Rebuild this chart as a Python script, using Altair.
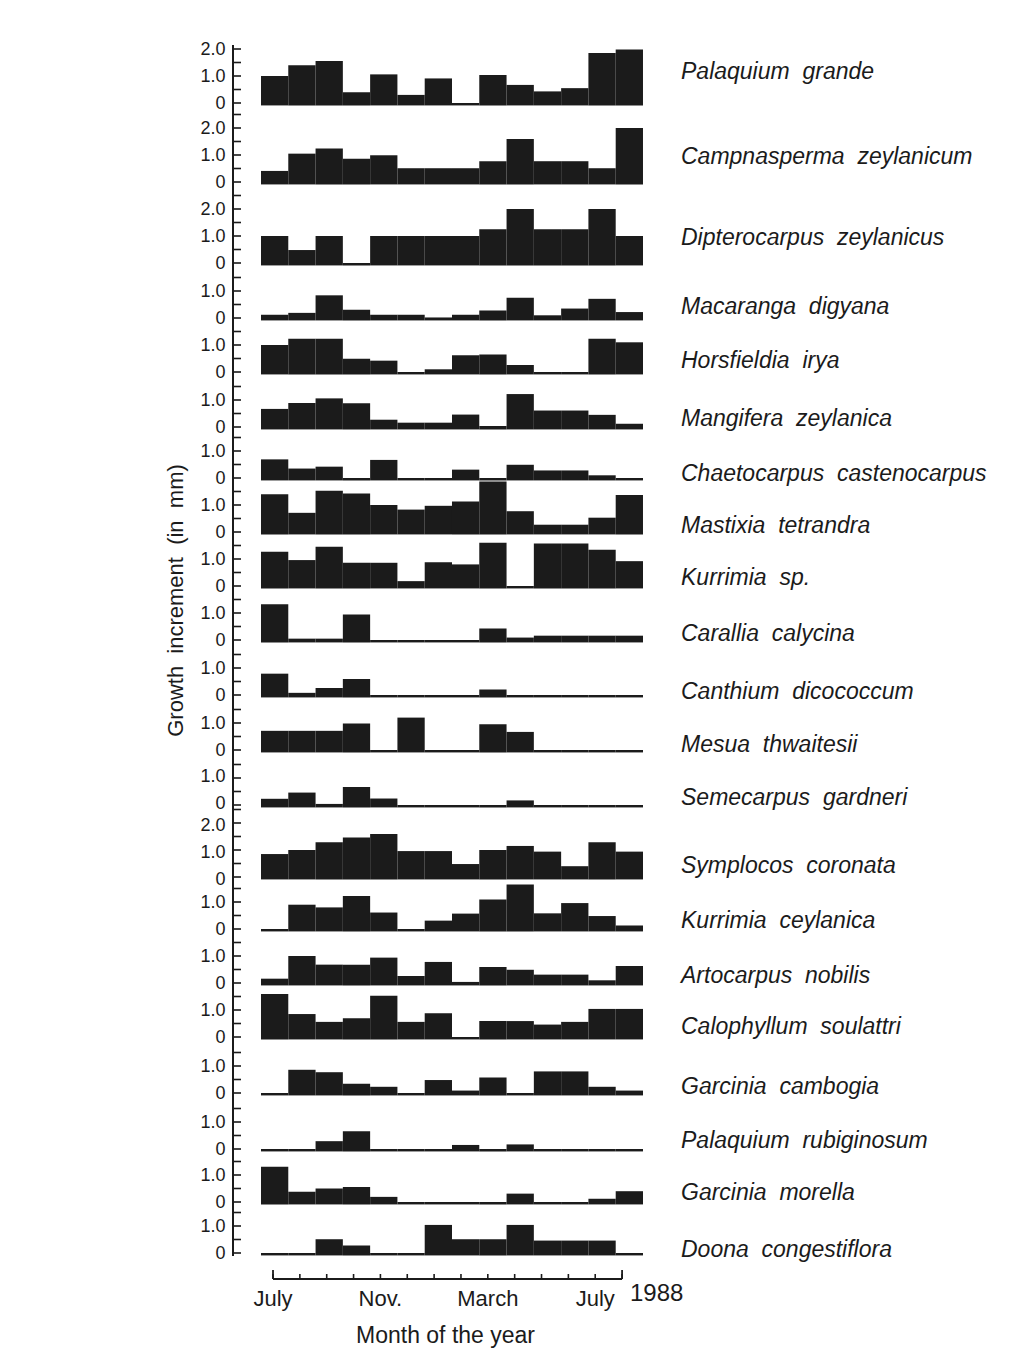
import altair as alt
import pandas as pd

# ---------------- data ----------------
MONTHS = list(range(14))  # July 1987 ... August 1988
MONTH_LABELS = ["July", "", "", "", "Nov.", "", "", "", "March", "", "", "", "July", ""]
YEAR_NOTE = "1988"
Y_TITLE = "Growth\u00a0 increment\u00a0 (in\u00a0 mm)"
X_TITLE = "Month of the year"

SPECIES = [
    "Palaquium\u00a0 grande", "Campnasperma\u00a0 zeylanicum", "Dipterocarpus\u00a0 zeylanicus",
    "Macaranga\u00a0 digyana", "Horsfieldia\u00a0 irya", "Mangifera\u00a0 zeylanica",
    "Chaetocarpus\u00a0 castenocarpus", "Mastixia\u00a0 tetrandra", "Kurrimia\u00a0 sp.",
    "Carallia\u00a0 calycina", "Canthium\u00a0 dicococcum", "Mesua\u00a0 thwaitesii",
    "Semecarpus\u00a0 gardneri", "Symplocos\u00a0 coronata", "Kurrimia\u00a0 ceylanica",
    "Artocarpus\u00a0 nobilis", "Calophyllum\u00a0 soulattri", "Garcinia\u00a0 cambogia",
    "Palaquium\u00a0 rubiginosum", "Garcinia\u00a0 morella", "Doona\u00a0 congestiflora",
]

palaquium_grande = [1.0, 1.4, 1.56, 0.4, 1.06, 0.3, 0.91, 0.0, 1.04, 0.67, 0.43, 0.55, 1.85, 1.98]
campnasperma_zeylanicum = [0.41, 1.05, 1.24, 0.86, 0.99, 0.51, 0.51, 0.51, 0.77, 1.59, 0.77, 0.77, 0.51, 2.0]
dipterocarpus_zeylanicus = [1.0, 0.48, 1.0, 0.0, 1.0, 1.0, 1.0, 1.0, 1.25, 2.0, 1.25, 1.25, 2.0, 1.0]
macaranga_digyana = [0.12, 0.19, 0.84, 0.31, 0.12, 0.12, 0.02, 0.12, 0.28, 0.75, 0.1, 0.35, 0.71, 0.22]
horsfieldia_irya = [1.0, 1.23, 1.23, 0.49, 0.42, 0.0, 0.1, 0.62, 0.65, 0.26, 0.0, 0.0, 1.23, 1.1]
mangifera_zeylanica = [0.67, 0.89, 1.06, 0.88, 0.27, 0.16, 0.16, 0.46, 0.04, 1.22, 0.61, 0.61, 0.45, 0.12]
chaetocarpus_castenocarpus = [0.69, 0.35, 0.42, 0.0, 0.67, 0.0, 0.0, 0.31, 0.0, 0.49, 0.28, 0.28, 0.1, 0.0]
mastixia_tetrandra = [1.4, 0.71, 1.53, 1.43, 1.0, 0.83, 0.97, 1.13, 1.87, 0.77, 0.27, 0.27, 0.53, 1.37]
kurrimia_sp = [1.27, 0.96, 1.45, 0.86, 0.86, 0.18, 0.88, 0.8, 1.6, 0.0, 1.57, 1.57, 1.34, 0.92]
carallia_calycina = [1.32, 0.05, 0.05, 0.94, 0.0, 0.0, 0.0, 0.0, 0.43, 0.09, 0.16, 0.16, 0.16, 0.16]
canthium_dicococcum = [0.79, 0.08, 0.26, 0.59, 0.0, 0.0, 0.0, 0.0, 0.2, 0.0, 0.0, 0.0, 0.0, 0.0]
mesua_thwaitesii = [0.71, 0.71, 0.71, 0.98, 0.0, 1.2, 0.0, 0.0, 0.95, 0.67, 0.0, 0.0, 0.0, 0.0]
semecarpus_gardneri = [0.23, 0.46, 0.04, 0.67, 0.24, 0.0, 0.0, 0.0, 0.0, 0.17, 0.0, 0.0, 0.0, 0.0]
symplocos_coronata = [0.85, 1.0, 1.29, 1.46, 1.59, 0.96, 0.96, 0.48, 1.0, 1.15, 0.94, 0.4, 1.29, 0.94]
kurrimia_ceylanica = [0.0, 0.9, 0.8, 1.22, 0.61, 0.0, 0.31, 0.57, 1.09, 1.65, 0.58, 0.96, 0.48, 0.13]
artocarpus_nobilis = [0.16, 1.0, 0.68, 0.68, 0.94, 0.26, 0.78, 0.04, 0.59, 0.49, 0.31, 0.31, 0.1, 0.63]
calophyllum_soulattri = [1.59, 0.85, 0.56, 0.69, 1.53, 0.56, 0.88, 0.0, 0.59, 0.59, 0.46, 0.56, 1.04, 1.04]
garcinia_cambogia = [0.0, 0.86, 0.77, 0.34, 0.23, 0.0, 0.48, 0.09, 0.57, 0.0, 0.8, 0.8, 0.23, 0.09]
palaquium_rubiginosum = [0.0, 0.0, 0.29, 0.66, 0.0, 0.0, 0.0, 0.15, 0.0, 0.17, 0.0, 0.0, 0.0, 0.0]
garcinia_morella = [1.31, 0.38, 0.5, 0.56, 0.19, 0.0, 0.0, 0.0, 0.0, 0.31, 0.0, 0.0, 0.12, 0.4]
doona_congestiflora = [0.0, 0.0, 0.51, 0.28, 0.0, 0.0, 1.04, 0.51, 0.51, 1.04, 0.46, 0.46, 0.46, 0.0]

GROWTH = [
    palaquium_grande, campnasperma_zeylanicum, dipterocarpus_zeylanicus, macaranga_digyana,
    horsfieldia_irya, mangifera_zeylanica, chaetocarpus_castenocarpus, mastixia_tetrandra,
    kurrimia_sp, carallia_calycina, canthium_dicococcum, mesua_thwaitesii, semecarpus_gardneri,
    symplocos_coronata, kurrimia_ceylanica, artocarpus_nobilis, calophyllum_soulattri,
    garcinia_cambogia, palaquium_rubiginosum, garcinia_morella, doona_congestiflora,
]

TWO_LABEL_PANELS = {0, 1, 2, 13}  # panels whose axis is labelled 0, 1.0, 2.0

# ---------------- layout ----------------
PX_PER_UNIT = 27.0
PANEL_PX = [61, 79, 81, 55, 54, 55, 51, 54, 54, 54, 55, 55, 55, 72, 52, 54, 54, 56, 56, 53, 51]
BELOW_ZERO_PX = 3
LABEL_RISE = [31, 25, 25, 11, 11, 8, 4, 6, 8, 6, 3, 5, 7, 11, 8, 7, 10, 6, 8, 9, 3]
LABEL_NUDGE = {12: -2, 13: 2}  # keep crowded axis labels apart
PLOT_W = 417
X_DOMAIN = [-1.526, 13.757]
AXIS_X_DOMAIN = [-1.49, 14.04]
FONT = "Liberation Sans"
INK = "#1b1b1b"
TITLE_PANEL = 9

panels = []
for i, (name, vals) in enumerate(zip(SPECIES, GROWTH)):
    h = PANEL_PX[i]
    ymin = -BELOW_ZERO_PX / PX_PER_UNIT
    ymax = (h - BELOW_ZERO_PX) / PX_PER_UNIT
    xs = alt.Scale(domain=X_DOMAIN, nice=False, zero=False)
    ys = alt.Scale(domain=[ymin, ymax], nice=False, zero=False)

    df = pd.DataFrame({"m": MONTHS, "g": vals})
    df["m0"] = df["m"] - 0.5
    df["m1"] = df["m"] + 0.5

    label_vals = [0, 1, 2] if i in TWO_LABEL_PANELS else [0, 1]
    axis_kw = dict(
        values=label_vals,
        labelExpr="datum.value == 0 ? '0' : format(datum.value, '.1f')",
        domain=False, ticks=False, grid=False,
        labelPadding=8, labelFont=FONT, labelFontSize=18, labelColor=INK,
        labelBaseline="middle",
    )
    if i in LABEL_NUDGE:
        axis_kw["labelOffset"] = LABEL_NUDGE[i]
    if i == TITLE_PANEL:
        axis_kw.update(
            titleFont=FONT, titleFontSize=22, titleFontWeight="normal",
            titleColor=INK, titleX=-58, titleY=11, titleAngle=270, titleBaseline="middle",
            titleAlign="center",
        )
        ytitle = Y_TITLE
    else:
        ytitle = None

    bars = alt.Chart(df).mark_rect(color=INK).encode(
        x=alt.X("m0:Q", scale=xs, axis=None),
        x2="m1",
        y=alt.Y("g:Q", scale=ys, axis=alt.Axis(**axis_kw), title=ytitle),
        y2=alt.datum(-0.09),
    )

    vline = alt.Chart(pd.DataFrame({"k": [0]})).mark_rule(color=INK, strokeWidth=2).encode(
        x=alt.value(0), y=alt.value(0), y2=alt.value(h)
    )

    tick_vals = [k * 0.5 for k in range(int(ymax / 0.5 + 1e-6) + 1)]
    ticks = alt.Chart(pd.DataFrame({"t": tick_vals})).mark_rule(color=INK, strokeWidth=1.6).encode(
        y=alt.Y("t:Q", scale=ys, axis=None), x=alt.value(0), x2=alt.value(8)
    )

    label = alt.Chart(pd.DataFrame({"name": [name]})).mark_text(
        align="left", baseline="middle", font=FONT, fontStyle="italic",
        fontSize=23, color=INK,
    ).encode(x=alt.value(448), y=alt.value(h - BELOW_ZERO_PX - LABEL_RISE[i]), text="name:N")

    panels.append(
        alt.layer(bars, vline, ticks, label)
        .resolve_axis(x="independent", y="independent")
        .properties(width=PLOT_W, height=h)
    )

# ---------------- month axis panel ----------------
AX_H = 26
AX_LINE_Y = 23
axs = alt.Scale(domain=AXIS_X_DOMAIN, nice=False, zero=False)
df_ax = pd.DataFrame({"m": MONTHS, "lab": MONTH_LABELS})

ax_line = alt.Chart(pd.DataFrame({"a": [MONTHS[0]], "b": [MONTHS[-1]]})).mark_rule(
    color=INK, strokeWidth=2
).encode(
    x=alt.X("a:Q", scale=axs, title=X_TITLE, axis=alt.Axis(
        labels=False, ticks=False, domain=False, grid=False,
        titleFont=FONT, titleFontSize=23, titleFontWeight="normal", titleColor=INK,
        titlePadding=42, titleX=212,
    )),
    x2="b:Q",
    y=alt.value(AX_LINE_Y),
)
ax_ticks = alt.Chart(df_ax).mark_rule(color=INK, strokeWidth=1.6).encode(
    x=alt.X("m:Q", scale=axs, axis=None), y=alt.value(AX_LINE_Y), y2=alt.value(AX_LINE_Y - 5)
)
ax_end_ticks = alt.Chart(df_ax).transform_filter(
    (alt.datum.m == MONTHS[0]) | (alt.datum.m == MONTHS[-1])
).mark_rule(color=INK, strokeWidth=1.8).encode(
    x=alt.X("m:Q", scale=axs, axis=None), y=alt.value(AX_LINE_Y), y2=alt.value(AX_LINE_Y - 9)
)
ax_labels = alt.Chart(df_ax).mark_text(
    baseline="middle", align="center", font=FONT, fontSize=22, color=INK
).encode(x=alt.X("m:Q", scale=axs, axis=None), y=alt.value(43), text="lab:N")
year = alt.Chart(pd.DataFrame({"y": [YEAR_NOTE]})).mark_text(
    baseline="middle", align="left", font=FONT, fontSize=24, color=INK
).encode(x=alt.value(397), y=alt.value(38), text="y:N")

axis_panel = (
    alt.layer(ax_line, ax_ticks, ax_end_ticks, ax_labels, year)
    .resolve_axis(x="independent")
    .properties(width=PLOT_W, height=AX_H)
)

chart = (
    alt.vconcat(*panels, axis_panel, spacing=0)
    .properties(bounds="flush", padding={"left": 155, "top": 32, "right": 5, "bottom": 5})
    .resolve_scale(x="independent", y="independent")
    .configure(background="white")
    .configure_view(stroke=None)
)

chart.save("out.html", embed_options={"renderer": "svg", "actions": False})
